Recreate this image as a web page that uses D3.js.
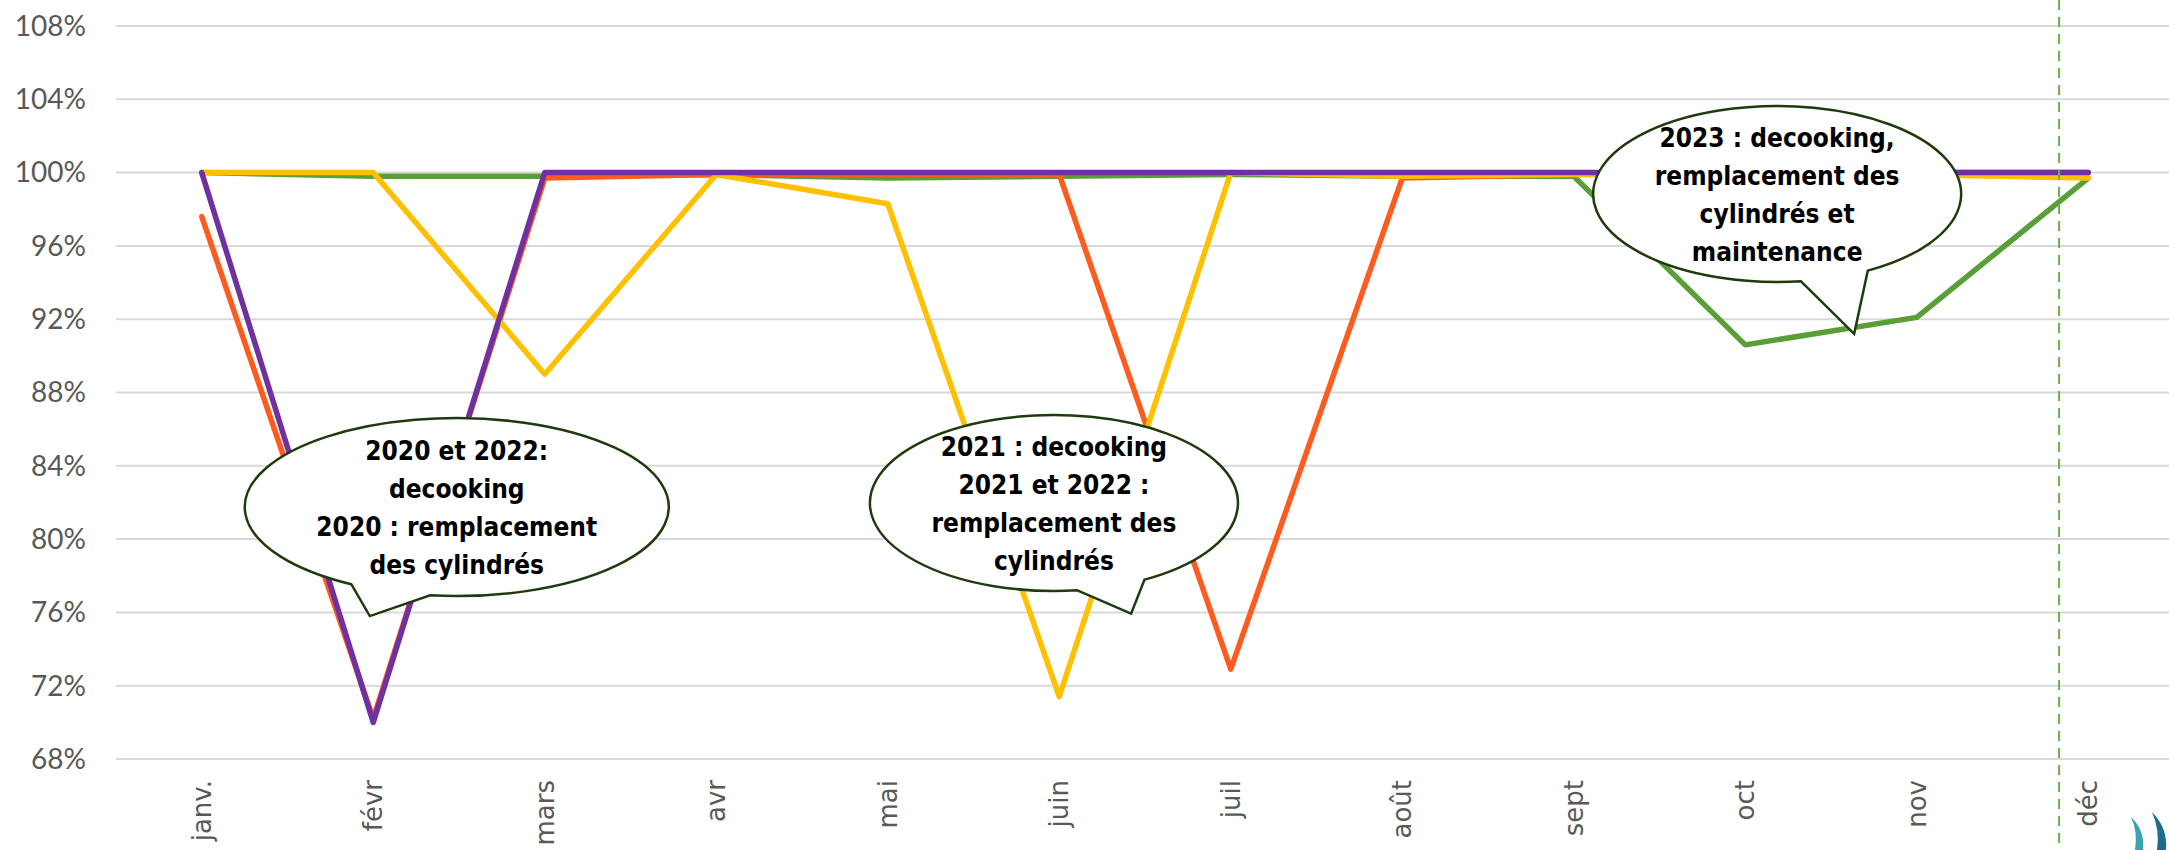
<!DOCTYPE html>
<html lang="fr">
<head>
<meta charset="UTF-8">
<title>Disponibilité mensuelle</title>
<script src="https://cdn.jsdelivr.net/npm/d3@7"></script>
<style>
  body { margin: 0; background: #fff; }
  svg { display: block; }
  .ytick { font-family: Lato, "Open Sans", sans-serif; font-size: 28px; fill: #595959; }
  .xtick { font-family: "DejaVu Sans", sans-serif; font-size: 26px; fill: #595959; }
  .note { font-family: "Liberation Sans Narrow", "DejaVu Sans Condensed", sans-serif; font-size: 26px; font-weight: bold; fill: #000; }
</style>
</head>
<body>
<div id="chart"></div>
<script>
// months on the x axis
const months = ["janv.", "févr", "mars", "avr", "mai", "juin", "juil", "août", "sept", "oct", "nov", "déc"];
const yTicks = [0.68, 0.72, 0.76, 0.80, 0.84, 0.88, 0.92, 0.96, 1.00, 1.04, 1.08];

// monthly values per year
const serie2020 = [1.000, 0.700, 1.000, 1.000, 1.000, 1.000, 1.000, 1.000, 1.000, 1.000, 1.000, 1.000];
const serie2021 = [1.000, 1.000, 0.890, 0.999, 0.983, 0.714, 1.000, 0.998, 0.999, 0.999, 0.999, 0.997];
const serie2022 = [0.976, 0.702, 0.997, 0.999, 0.999, 0.999, 0.729, 0.997, 0.999, 1.000, 1.000, 1.000];
const serie2023 = [1.000, 0.998, 0.998, 0.999, 0.997, 0.998, 0.999, 0.998, 0.998, 0.906, 0.921, 0.997];

// dashed marker (month index)
const markerMonth = 10.83;

// callouts: centre, tail base left, tail tip, tail base right (month index, value)
const notes = [
  { lines: ["2020 et 2022:", "decooking", "2020 : remplacement", "des cylindrés"],
    c: [1.487, 0.8175], rx: 212, ry: 89, l: [0.881, 0.776], tip: [0.980, 0.758], r: [1.336, 0.7706] },
  { lines: ["2021 : decooking", "2021 et 2022 :", "remplacement des", "cylindrés"],
    c: [4.969, 0.8197], rx: 184, ry: 88, l: [5.106, 0.7719], tip: [5.419, 0.7593], r: [5.50, 0.7777] },
  { lines: ["2023 : decooking,", "remplacement des", "cylindrés et", "maintenance"],
    c: [9.186, 0.9883], rx: 184, ry: 88, l: [9.325, 0.9408], tip: [9.635, 0.9120], r: [9.715, 0.9465] }
];

const w = 2169, h = 850;
const svg = d3.select("#chart").append("svg").attr("width", w).attr("height", h);

const x = d3.scaleLinear().domain([-0.5, 11.5]).range([116, 2174]);
const y = d3.scaleLinear().domain([0.68, 1.08]).range([759, 26]);

// grid
svg.append("g").selectAll("line").data(yTicks).enter().append("line")
  .attr("x1", x(-0.5)).attr("x2", w)
  .attr("y1", d => y(d)).attr("y2", d => y(d))
  .attr("stroke", "#d9d9d9").attr("stroke-width", 2);

svg.append("g").selectAll("text").data(yTicks).enter().append("text")
  .attr("class", "ytick")
  .attr("x", 86).attr("y", d => y(d)).attr("dy", "0.35em")
  .attr("text-anchor", "end")
  .text(d => Math.round(d * 100) + "%");

svg.append("g").selectAll("text").data(months).enter().append("text")
  .attr("class", "xtick")
  .attr("transform", (d, i) => "translate(" + x(i) + ",780) rotate(-90)")
  .attr("dy", "0.35em")
  .attr("text-anchor", "end")
  .text(d => d);

// lines
const line = d3.line().x((d, i) => x(i)).y(d => y(d));
const series = [
  { values: serie2023, color: "#5a9e38" },
  { values: serie2022, color: "#ff5b1f" },
  { values: serie2021, color: "#ffc000" },
  { values: serie2020, color: "#7030a0" }
];
svg.append("g").selectAll("path").data(series).enter().append("path")
  .attr("d", d => line(d.values))
  .attr("fill", "none")
  .attr("stroke", d => d.color)
  .attr("stroke-width", 5.5)
  .attr("stroke-linejoin", "round")
  .attr("stroke-linecap", "round");

// marker
svg.append("line")
  .attr("x1", x(markerMonth)).attr("x2", x(markerMonth))
  .attr("y1", 0).attr("y2", h)
  .attr("stroke", "#70ad47").attr("stroke-width", 2)
  .attr("stroke-dasharray", "10,7");

// callouts
function onEllipse(cx, cy, rx, ry, p) {
  const t = Math.atan2((p[1] - cy) / ry, (p[0] - cx) / rx);
  return [cx + rx * Math.cos(t), cy + ry * Math.sin(t)];
}
notes.forEach(n => {
  const cx = x(n.c[0]), cy = y(n.c[1]);
  const bl = onEllipse(cx, cy, n.rx, n.ry, [x(n.l[0]), y(n.l[1])]);
  const br = onEllipse(cx, cy, n.rx, n.ry, [x(n.r[0]), y(n.r[1])]);
  const tip = [x(n.tip[0]), y(n.tip[1])];
  const p = "M" + bl + "L" + tip + "L" + br +
    "A" + n.rx + "," + n.ry + " 0 1 0 " + bl + "Z";
  svg.append("path").attr("d", p)
    .attr("fill", "#fff").attr("stroke", "#1f3b0e").attr("stroke-width", 2.5);
  svg.append("g").selectAll("text").data(n.lines).enter().append("text")
    .attr("class", "note")
    .attr("x", cx).attr("y", (d, i) => cy + (i - 1.5) * 38 + 10)
    .attr("text-anchor", "middle")
    .text(d => d);
});

// logo corner
svg.append("path").attr("d", "M2131,817 Q2145,830 2143,850 L2135,850 Q2138,832 2131,817 Z").attr("fill", "#3aa3ad");
svg.append("path").attr("d", "M2152,812 Q2168,828 2166,850 L2157,850 Q2160,830 2152,812 Z").attr("fill", "#1d6d8a");
</script>
</body>
</html>
